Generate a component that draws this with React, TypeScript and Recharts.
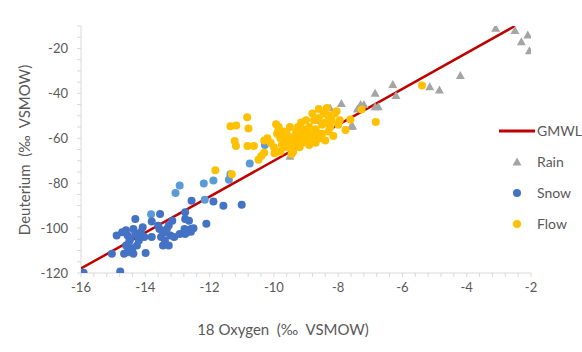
import React from 'react';
import { ScatterChart, Scatter, XAxis, YAxis } from 'recharts';

// δ18O / δD pairs
const rain: [number, number][] = [
  [-3.1, -11], [-2.5, -12], [-2.1, -14], [-2.3, -17], [-2.05, -21],
  [-4.2, -32], [-5.15, -37], [-4.85, -38.5], [-6.3, -36], [-6.2, -41],
  [-6.85, -40], [-6.75, -46], [-7.2, -45], [-7.4, -47], [-7.55, -54.5],
  [-7.9, -44.5], [-8.25, -46.5], [-7.3, -45], [-6.85, -46], [-7.6, -54.8],
  [-9.5, -68], [-14.6, -111], [-8.7, -52], [-9.0, -56],
];

const snowLight: [number, number][] = [
  [-13.06, -84.4], [-12.93, -81], [-12.18, -80.1], [-11.88, -78.8], [-12.15, -87.4],
  [-10.75, -71.2], [-13.82, -93.8], [-11.35, -76], [-11.4, -78.5], [-10.28, -63],
];

const snow: [number, number][] = [
  [-15.92, -119.9], [-14.78, -119.3], [-15.04, -111.4], [-14.89, -103.3], [-14.72, -101.8],
  [-14.6, -101], [-14.55, -103.3], [-14.46, -104.8], [-14.6, -107.7], [-14.55, -110.7],
  [-14.66, -111.4], [-14.37, -111.4], [-14.31, -95.9], [-14.37, -100.4], [-14.31, -102.6],
  [-14.2, -104.8], [-14.14, -101.8], [-14.08, -99.6], [-14.26, -107.7], [-13.99, -111.1],
  [-14.2, -105.5], [-14.03, -104], [-13.8, -104], [-13.8, -97.1], [-13.54, -93.7],
  [-13.56, -100.4], [-13.45, -101.8], [-13.51, -104], [-13.39, -105.5], [-13.45, -107.7],
  [-13.27, -107.7], [-13.33, -100.4], [-13.27, -98.9], [-13.16, -96.7], [-13.22, -103.3],
  [-13.1, -104], [-12.93, -102.6], [-12.76, -95.9], [-12.76, -93], [-12.78, -100.4],
  [-12.64, -96.7], [-12.58, -100.4], [-12.7, -101.8], [-12.76, -102.6], [-12.58, -101.6],
  [-12.5, -100.1], [-12.56, -87.8], [-12.1, -98.1], [-11.88, -88.2], [-11.57, -90],
  [-11.0, -89.6], [-14.5, -106], [-14.4, -109], [-13.6, -99], [-13.4, -102],
];

const flow: [number, number][] = [
  [-5.39, -36.5], [-6.83, -52.8], [-7.27, -47.2], [-7.62, -51.6], [-7.77, -56.3],
  [-10.83, -50.6], [-10.79, -55.7], [-11.35, -54.6], [-11.17, -54.3], [-11.22, -61.2],
  [-11.18, -63.4], [-10.82, -63.4], [-10.62, -63.4], [-11.82, -74.2], [-11.31, -76],
  [-10.48, -69.6], [-10.39, -67.9], [-10.3, -66.4], [-9.98, -66.7], [-9.93, -53.8],
  [-9.87, -56.8], [-9.9, -58], [-9.8, -60], [-9.7, -62], [-9.6, -58],
  [-9.5, -60], [-9.4, -63], [-9.3, -61], [-9.2, -59], [-9.6, -64],
  [-9.4, -66], [-9.5, -55], [-9.3, -57], [-9.1, -62], [-9.0, -58],
  [-8.9, -55], [-9.0, -52], [-8.8, -60], [-8.7, -56], [-8.6, -51],
  [-8.5, -54], [-8.5, -58], [-8.4, -61], [-8.3, -57], [-8.2, -52],
  [-8.1, -49], [-8.0, -54], [-8.3, -50], [-8.6, -47], [-8.8, -49],
  [-9.0, -60], [-9.2, -64], [-9.8, -66], [-10.1, -62], [-10.2, -60],
  [-10.0, -64], [-9.85, -55], [-9.7, -57], [-8.15, -59], [-8.4, -53],
  [-8.7, -62], [-8.9, -63], [-9.1, -56], [-9.35, -59], [-9.55, -61],
  [-9.75, -63], [-8.05, -48], [-8.25, -55], [-8.55, -60], [-8.95, -61],
  [-9.15, -53], [-7.95, -52], [-10.3, -61], [-9.45, -67], [-9.6, -62],
  [-8.75, -52], [-8.45, -49], [-8.35, -46.5], [-8.65, -58], [-9.25, -55],
  [-9.65, -59.5], [-9.45, -62.5], [-9.25, -60.5], [-9.05, -59], [-8.85, -57.5],
];

// Global Meteoric Water Line end points
const gmwl: [number, number][] = [[-16, -118], [-2.5, -10]];

const xMajor = [-16, -14, -12, -10, -8, -6, -4, -2];
const yMajor = [-120, -100, -80, -60, -40, -20];

const FONT = 'Lato, "Open Sans", sans-serif';
const TEXT = '#595959';
const AXIS = '#D9D9D9';

const toPts = (arr: [number, number][]) => arr.map(([x, y]) => ({ x, y }));

// minor ticks: every 0.4 on x, every 5 on y
const xTicks: number[] = [];
for (let i = 0; i <= 35; i++) xTicks.push(Math.round((-16 + i * 0.4) * 10) / 10);
const yTicks: number[] = [];
for (let i = 0; i <= 22; i++) yTicks.push(-120 + i * 5);

const dot = (color: string) => (props: any) => (
  <circle cx={props.cx} cy={props.cy} r={4} fill={color} />
);

const tri = (props: any) => {
  const { cx, cy } = props;
  return <polygon points={`${cx},${cy - 4.5} ${cx + 4.5},${cy + 3.5} ${cx - 4.5},${cy + 3.5}`} fill="#A5A5A5" />;
};

const XTitle = () => (
  <text x={283} y={335} textAnchor="middle" fill={TEXT} fontSize={15} fontFamily={FONT} style={{ whiteSpace: 'pre' }}>
    18 Oxygen  (‰  VSMOW)
  </text>
);

const YTitle = () => (
  <text
    transform="translate(26,150) rotate(-90)"
    textAnchor="middle"
    dominantBaseline="middle"
    fill={TEXT}
    fontSize={15}
    fontFamily={FONT}
    style={{ whiteSpace: 'pre' }}
  >
    Deuterium  (‰  VSMOW)
  </text>
);

const legendItems = [
  { name: 'GMWL', kind: 'line', color: '#C00000' },
  { name: 'Rain', kind: 'tri', color: '#A5A5A5' },
  { name: 'Snow', kind: 'dot', color: '#4472C4' },
  { name: 'Flow', kind: 'dot', color: '#FFC000' },
];

const App: React.FC = () => {
  return (
    <div style={{ position: 'absolute', left: 0, top: 0, width: 582, height: 352, background: '#fff' }}>
      <ScatterChart width={582} height={352} margin={{ top: 26, right: 51, left: 0, bottom: 0 }}>
        <XAxis
          type="number"
          dataKey="x"
          domain={[-16, -2]}
          ticks={xTicks}
          interval={0}
          height={79}
          stroke={AXIS}
          tickSize={4}
          tickMargin={6}
          tick={{ fill: TEXT, fontSize: 13, fontFamily: FONT }}
          tickFormatter={(v: number) => (xMajor.includes(v) ? String(v) : '')}
          label={<XTitle />}
          allowDataOverflow
        />
        <YAxis
          type="number"
          dataKey="y"
          domain={[-120, -10]}
          ticks={yTicks}
          interval={0}
          width={81}
          stroke={AXIS}
          tickSize={4}
          tickMargin={9}
          tick={{ fill: TEXT, fontSize: 13, fontFamily: FONT }}
          tickFormatter={(v: number) => (yMajor.includes(v) ? String(v) : '')}
          label={<YTitle />}
          allowDataOverflow
        />
        <Scatter
          name="GMWL"
          data={toPts(gmwl)}
          line={{ stroke: '#C00000', strokeWidth: 2.5 }}
          lineType="joint"
          shape={() => <g />}
          isAnimationActive={false}
        />
        <Scatter name="Rain" data={toPts(rain)} shape={tri} isAnimationActive={false} />
        <Scatter name="Snow2" data={toPts(snowLight)} shape={dot('#5B9BD5')} isAnimationActive={false} />
        <Scatter name="Snow" data={toPts(snow)} shape={dot('#4472C4')} isAnimationActive={false} />
        <Scatter name="Flow" data={toPts(flow)} shape={dot('#FFC000')} isAnimationActive={false} />
      </ScatterChart>
      <div style={{ position: 'absolute', left: 497, top: 115, fontFamily: FONT, fontSize: 14, color: TEXT }}>
        {legendItems.map((it) => (
          <div key={it.name} style={{ display: 'flex', alignItems: 'center', height: 31 }}>
            <svg width={40} height={20} style={{ display: 'block' }}>
              {it.kind === 'line' && <line x1={2} y1={10} x2={38} y2={10} stroke={it.color} strokeWidth={3} />}
              {it.kind === 'tri' && <polygon points="20,5.5 24.5,13.5 15.5,13.5" fill={it.color} />}
              {it.kind === 'dot' && <circle cx={20} cy={10} r={4} fill={it.color} />}
            </svg>
            <span>{it.name}</span>
          </div>
        ))}
      </div>
    </div>
  );
};

export default App;
